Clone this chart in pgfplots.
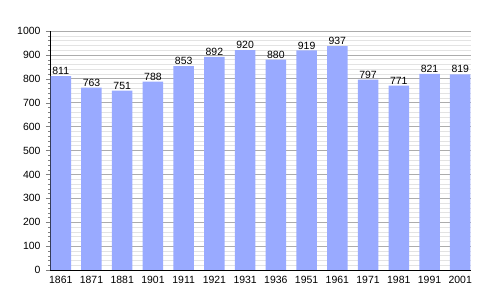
\documentclass[border=0pt]{standalone}
\usepackage{pgfplots}
\pgfplotsset{compat=1.18}
\usepackage{fontspec}
\setmainfont{Liberation Sans}
\definecolor{barblue}{RGB}{153,170,255}
\begin{document}
\begin{tikzpicture}
\path[use as bounding box] (0,0) rectangle (500bp,300bp);
\begin{axis}[
  at={(50bp,30bp)}, anchor=south west,
  scale only axis, width=421bp, height=239bp,
  ymin=0, ymax=1000, ytick={0,100,...,1000},
  minor y tick num=4,
  xmin=-0.35, xmax=13.35,
  xtick={0,...,13},
  xticklabels={1861,1871,1881,1901,1911,1921,1931,1936,1951,1961,1971,1981,1991,2001},
  axis x line*=bottom, axis y line*=left,
  x axis line style={-}, y axis line style={-},
  tick align=outside,
  major tick length=4bp, minor tick length=2bp,
  xtick style={draw=none},
  ymajorgrids, yminorgrids,
  major grid style={gray!65, line width=0.6pt},
  minor grid style={gray!22, line width=0.5pt},
  tick label style={font=\fontsize{10.5}{12}\selectfont},
  /pgf/number format/assume math mode=true,
  /pgf/number format/1000 sep={},
  yticklabel style={xshift=-2bp},
  xticklabel style={yshift=1bp},
  ybar, bar width=20.5bp,
  nodes near coords,
  nodes near coords style={font=\fontsize{10.5}{12}\selectfont, inner sep=1bp},
]
\addplot[fill=barblue, draw=none] coordinates {
(0,811) (1,763) (2,751) (3,788) (4,853) (5,892) (6,920) (7,880) (8,919) (9,937) (10,797) (11,771) (12,821) (13,819)
};
\end{axis}
\end{tikzpicture}
\end{document}
